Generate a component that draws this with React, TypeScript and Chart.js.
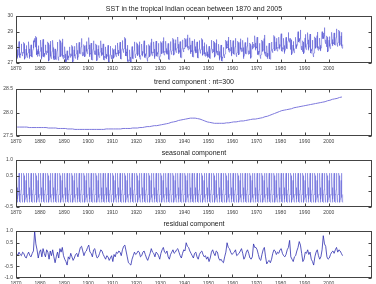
import React, { useEffect, useRef } from "react";
import { Chart, registerables } from "chart.js";
Chart.register(...registerables);

const startYear = 1870;
const xMin = 1870;
const xMax = 2018;
const tickYears = [1870, 1880, 1890, 1900, 1910, 1920, 1930, 1940, 1950, 1960, 1970, 1980, 1990, 2000];

const titles = [
  "SST in the tropical Indian ocean between 1870 and 2005",
  "trend component : nt=300",
  "seasonal component",
  "residual component",
];

// annual trend values 1870..2005
const trendValues = [
  27.69, 27.69, 27.69, 27.69, 27.69, 27.68, 27.68, 27.68, 27.68, 27.68,
  27.68, 27.68, 27.68, 27.67, 27.67, 27.67, 27.67, 27.66, 27.66, 27.66,
  27.66, 27.65, 27.65, 27.65, 27.64, 27.64, 27.64, 27.64, 27.64, 27.64,
  27.64, 27.64, 27.64, 27.64, 27.64, 27.64, 27.64, 27.65, 27.65, 27.65,
  27.65, 27.65, 27.65, 27.65, 27.66, 27.66, 27.66, 27.66, 27.67, 27.67,
  27.67, 27.68, 27.68, 27.69, 27.70, 27.70, 27.71, 27.72, 27.72, 27.73,
  27.74, 27.75, 27.76, 27.77, 27.79, 27.80, 27.81, 27.83, 27.84, 27.85,
  27.86, 27.87, 27.88, 27.88, 27.88, 27.87, 27.86, 27.84, 27.82, 27.80,
  27.79, 27.78, 27.77, 27.77, 27.77, 27.77, 27.77, 27.78, 27.78, 27.79,
  27.80, 27.80, 27.81, 27.82, 27.82, 27.83, 27.84, 27.85, 27.86, 27.86,
  27.87, 27.88, 27.89, 27.91, 27.92, 27.94, 27.96, 27.98, 28.00, 28.02,
  28.04, 28.05, 28.06, 28.07, 28.08, 28.10, 28.11, 28.12, 28.13, 28.14,
  28.15, 28.16, 28.17, 28.18, 28.19, 28.20, 28.21, 28.22, 28.23, 28.25,
  28.26, 28.28, 28.29, 28.30, 28.32, 28.33,
];

// monthly seasonal cycle Jan..Dec
const seasonalCycle = [-0.12, 0.05, 0.35, 0.58, 0.5, 0.12, -0.2, -0.33, -0.35, -0.25, -0.12, -0.1];

// semi-annual residual values 1870..2005 (two per year)
const residualValues = [
  0.05, -0.05, 0.1, 0.0, -0.05, 0.1, 0.05, -0.1, -0.15, 0.0,
  0.1, -0.05, -0.1, 0.05, 0.15, 1.0, 0.45, 0.2, -0.15, 0.1,
  0.2, -0.1, 0.25, 0.05, -0.1, 0.2, 0.1, -0.2, 0.15, -0.05,
  0.2, -0.1, -0.35, -0.1, 0.1, -0.15, 0.25, 0.1, 0.3, -0.05,
  -0.2, -0.3, -0.45, -0.1, -0.2, 0.05, -0.1, -0.25, -0.15, 0.0,
  0.05, -0.1, 0.1, 0.3, 0.35, 0.15, -0.05, 0.1, 0.15, 0.3,
  0.4, 0.1, 0.05, -0.1, 0.2, 0.25, 0.0, -0.15, -0.1, 0.05,
  0.2, 0.15, 0.0, -0.1, -0.2, -0.05, -0.1, -0.25, -0.15, -0.05,
  -0.3, 0.0, -0.1, 0.1, 0.05, 0.15, 0.1, -0.05, 0.2, 0.35,
  0.4, 0.15, -0.1, -0.35, -0.4, -0.45, -0.2, -0.05, 0.1, 0.0,
  0.05, 0.15, 0.1, -0.1, -0.05, 0.1, 0.15, 0.0, -0.15, -0.25,
  -0.1, 0.05, 0.25, 0.1, 0.05, -0.1, 0.1, 0.05, -0.05, -0.2,
  0.05, 0.2, 0.3, 0.1, 0.05, 0.15, -0.1, -0.2, 0.0, 0.1,
  0.2, 0.05, 0.1, 0.2, 0.25, 0.1, -0.05, -0.15, 0.05, 0.2,
  0.15, 0.5, 0.35, 0.3, 0.15, 0.05, -0.05, -0.15, 0.05, 0.1,
  -0.1, -0.2, 0.0, 0.1, 0.15, 0.0, -0.1, -0.05, -0.2, -0.1,
  -0.3, -0.15, 0.1, 0.2, 0.05, -0.05, 0.15, 0.1, -0.15, -0.25,
  -0.2, -0.3, -0.35, -0.1, 0.1, 0.5, 0.3, 0.25, 0.1, 0.0,
  0.05, 0.1, 0.2, -0.05, 0.0, 0.05, 0.15, 0.25, 0.05, -0.2,
  -0.1, 0.1, 0.2, 0.05, -0.15, -0.2, -0.1, 0.45, 0.3, 0.3,
  0.2, 0.0, -0.2, -0.25, 0.0, 0.2, 0.3, -0.1, -0.4, -0.3,
  -0.25, -0.35, -0.2, 0.05, 0.2, 0.15, 0.0, 0.1, 0.05, 0.2,
  0.25, 0.05, -0.05, -0.1, 0.0, 0.2, 0.3, 0.6, -0.1, -0.2,
  -0.3, -0.1, -0.05, 0.15, 0.3, 0.55, 0.4, 0.05, -0.3, -0.2,
  0.1, 0.05, 0.2, 0.0, 0.1, -0.2, -0.3, -0.45, -0.1, 0.1,
  0.2, -0.05, -0.2, -0.1, 0.2, 0.8, 0.45, 0.35, -0.1, -0.2,
  -0.15, 0.0, 0.1, 0.15, 0.05, 0.2, 0.3, 0.1, 0.2, 0.15,
  0.05, -0.05,
];

const yRanges = [
  { min: 27, max: 30, step: 1 },
  { min: 27.5, max: 28.5, step: 0.5 },
  { min: -0.5, max: 1, step: 0.5 },
  { min: -1, max: 1, step: 0.5 },
];

const nMonths = trendValues.length * 12;
const monthlyTime = (i: number) => startYear + i / 12;

const sstPoints = Array.from({ length: nMonths }, (_, i) => ({
  x: monthlyTime(i),
  y: trendValues[Math.floor(i / 12)] + seasonalCycle[i % 12] + residualValues[Math.floor(i / 6)],
}));
const trendPoints = trendValues.map((v, i) => ({ x: startYear + i + 0.5, y: v }));
const seasonalPoints = Array.from({ length: nMonths }, (_, i) => ({ x: monthlyTime(i), y: seasonalCycle[i % 12] }));
const residualPoints = residualValues.map((v, k) => ({ x: startYear + 0.25 + k * 0.5, y: v }));

const panelData = [sstPoints, trendPoints, seasonalPoints, residualPoints];
const lineColors = ["rgba(80,80,210,0.7)", "rgba(125,120,220,1)", "rgba(90,90,215,0.65)", "rgba(45,45,175,1)"];
const lineWidths = [0.7, 1, 0.7, 0.8];

const FONT = '"Liberation Sans", Arial, sans-serif';
const CANVAS_W = 376;
const CANVAS_H = 71;
const canvasTops = [0, 73, 144, 215];

function makeDecor(title: string) {
  return {
    id: "decor",
    afterDraw(chart: any) {
      const { ctx, chartArea: a, scales } = chart;
      ctx.save();
      ctx.strokeStyle = "#444";
      ctx.lineWidth = 1;
      const L = Math.round(a.left) + 0.5;
      const R = Math.round(a.right) - 0.5;
      const T = Math.round(a.top) + 0.5;
      const B = Math.round(a.bottom) - 0.5;
      ctx.strokeRect(L, T, R - L, B - T);
      const tl = 3;
      ctx.beginPath();
      scales.x.ticks.forEach((t: any) => {
        const px = Math.round(scales.x.getPixelForValue(t.value)) + 0.5;
        ctx.moveTo(px, B);
        ctx.lineTo(px, B - tl);
        ctx.moveTo(px, T);
        ctx.lineTo(px, T + tl);
      });
      scales.y.ticks.forEach((t: any) => {
        const py = Math.round(scales.y.getPixelForValue(t.value)) + 0.5;
        ctx.moveTo(L, py);
        ctx.lineTo(L + tl, py);
        ctx.moveTo(R, py);
        ctx.lineTo(R - tl, py);
      });
      ctx.stroke();
      ctx.fillStyle = "#222";
      ctx.font = "7px " + FONT;
      ctx.textAlign = "center";
      ctx.textBaseline = "middle";
      ctx.fillText(title, (a.left + a.right) / 2, a.top - 7);
      ctx.restore();
    },
  };
}

function Panel({ index }: { index: number }) {
  const ref = useRef<HTMLCanvasElement>(null);
  useEffect(() => {
    if (!ref.current) return;
    const yr = yRanges[index];
    const chart = new Chart(ref.current, {
      type: "line",
      data: {
        datasets: [
          {
            data: panelData[index],
            borderColor: lineColors[index],
            borderWidth: lineWidths[index],
            pointRadius: 0,
            tension: 0,
            fill: false,
          },
        ],
      },
      options: {
        responsive: false,
        animation: false,
        events: [],
        layout: { padding: { top: 16, right: 4, left: 0, bottom: 0 } },
        plugins: { legend: { display: false }, tooltip: { enabled: false }, title: { display: false } },
        scales: {
          x: {
            type: "linear",
            min: xMin,
            max: xMax,
            grid: { display: false, drawTicks: false },
            border: { display: false },
            afterBuildTicks: (s: any) => {
              s.ticks = tickYears.map((v) => ({ value: v }));
            },
            afterFit: (s: any) => {
              s.height = 8;
            },
            ticks: {
              autoSkip: false,
              maxRotation: 0,
              padding: 3,
              color: "#444",
              font: { size: 5, family: FONT },
              callback: (v: any) => String(v),
            },
          },
          y: {
            min: yr.min,
            max: yr.max,
            grid: { display: false, drawTicks: false },
            border: { display: false },
            afterFit: (s: any) => {
              s.width = 16;
            },
            ticks: {
              stepSize: yr.step,
              padding: 3,
              color: "#444",
              font: { size: 5, family: FONT },
            },
          },
        },
      },
      plugins: [makeDecor(titles[index])],
    } as any);
    return () => chart.destroy();
  }, [index]);
  return (
    <canvas
      ref={ref}
      width={CANVAS_W}
      height={CANVAS_H}
      style={{ position: "absolute", left: 0, top: canvasTops[index], width: CANVAS_W, height: CANVAS_H }}
    />
  );
}

export default function App() {
  return (
    <div
      style={{
        position: "fixed",
        left: 0,
        top: 0,
        width: 376,
        height: 284,
        background: "#fff",
        overflow: "hidden",
      }}
    >
      {[0, 1, 2, 3].map((i) => (
        <Panel key={i} index={i} />
      ))}
    </div>
  );
}
